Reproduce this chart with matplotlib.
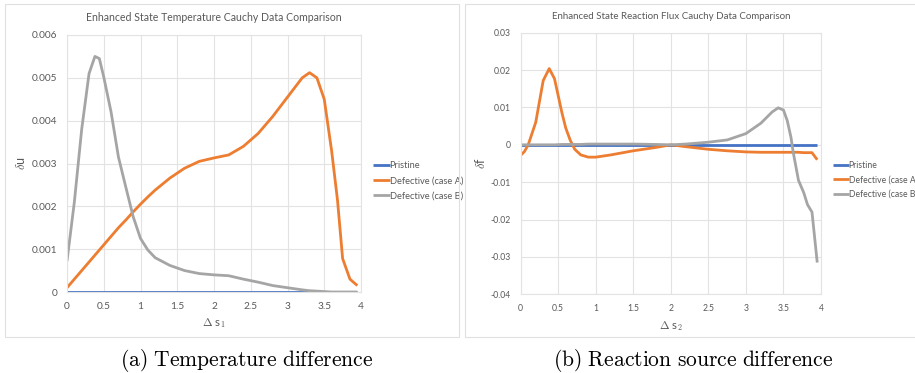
import matplotlib
matplotlib.use("Agg")
import matplotlib.pyplot as plt
from matplotlib.patches import Rectangle

# (a) temperature difference data
s1 = [0, 0.1, 0.2, 0.3, 0.38, 0.44, 0.5, 0.6, 0.7, 0.8, 0.9, 1.0, 1.1, 1.2, 1.4, 1.6,
      1.8, 2.0, 2.2, 2.4, 2.6, 2.8, 3.0, 3.2, 3.3, 3.4, 3.5, 3.6, 3.68, 3.75, 3.85, 3.95]
u_pristine = [0] * len(s1)
u_caseA = [0.0001, 0.0003, 0.0005, 0.0007, 0.00086, 0.00098, 0.0011, 0.0013, 0.0015, 0.00168,
           0.00187, 0.00205, 0.00222, 0.00238, 0.00266, 0.00289, 0.00305, 0.00313, 0.0032,
           0.0034, 0.0037, 0.0041, 0.00455, 0.005, 0.00512, 0.0050, 0.0045, 0.0033, 0.00215,
           0.00078, 0.0003, 0.00015]
u_caseB = [0.00072, 0.0021, 0.0038, 0.0051, 0.0055, 0.00545, 0.00502, 0.0042, 0.00315, 0.00245,
           0.00176, 0.00125, 0.00098, 0.0008, 0.00062, 0.0005, 0.00043, 0.0004, 0.00038, 0.0003,
           0.00023, 0.00015, 0.0001, 0.00005, 0.00003, 0.00002, 0.00001, 0.0, 0.0, 0.0, 0.0, 0.0]

# (b) reaction source difference data
s2 = [0, 0.05, 0.1, 0.2, 0.3, 0.38, 0.45, 0.55, 0.6, 0.66, 0.72, 0.8, 0.9, 1.0, 1.2, 1.5,
      1.8, 2.0, 2.2, 2.5, 2.75, 3.0, 3.2, 3.35, 3.43, 3.5, 3.55, 3.6, 3.63, 3.7, 3.77, 3.82,
      3.88, 3.95]
f_pristine = [0] * len(s2)
f_caseA = [-0.0028, -0.0018, 0.0, 0.006, 0.0172, 0.0204, 0.0177, 0.0085, 0.0045, 0.0012,
           -0.0012, -0.0027, -0.0033, -0.0033, -0.0027, -0.0016, -0.0007, 0.0, -0.0005,
           -0.0012, -0.0016, -0.0019, -0.002, -0.002, -0.002, -0.002, -0.002, -0.002, -0.002,
           -0.002, -0.0021, -0.0021, -0.0021, -0.004]
f_caseB = [0.0, 0.0, 0.0, 0.0, 0.0, 0.0, 0.0, 0.0001, 0.0001, 0.0001, 0.0001, 0.0001, 0.0002,
           0.0002, 0.0002, 0.0002, 0.0001, 0.0, 0.0002, 0.0007, 0.0013, 0.003, 0.0058, 0.0088,
           0.0099, 0.0093, 0.0065, 0.002, -0.002, -0.0095, -0.0128, -0.016, -0.018, -0.0315]

labels = ["Pristine", "Defective (case A)", "Defective (case B)"]
colors = ["#4472C4", "#ED7D31", "#A5A5A5"]
txt = "#595959"
grid = "#E3E3E3"

plt.rcParams["mathtext.fontset"] = "cm"
plt.rcParams["font.family"] = ["Lato", "DejaVu Sans"]

fig = plt.figure(figsize=(9.15, 3.73), dpi=100)

# chart frames
fig.patches.append(Rectangle((5 / 915, 1 - 337 / 373), 454 / 915, 333 / 373,
                             transform=fig.transFigure, fill=False, ec="#E0E0E0", lw=0.8))
fig.patches.append(Rectangle((465 / 915, 1 - 337 / 373), 460 / 915, 333 / 373,
                             transform=fig.transFigure, fill=False, ec="#E0E0E0", lw=0.8))


def style(ax, title, ylabel, xlabel, yticks, yfmt, fs, tfs, lfs, leg_y):
    ax.set_xlim(0, 4)
    ax.set_xticks([0, 0.5, 1, 1.5, 2, 2.5, 3, 3.5, 4])
    ax.set_xticklabels(["0", "0.5", "1", "1.5", "2", "2.5", "3", "3.5", "4"])
    ax.set_yticks(yticks)
    ax.set_yticklabels([yfmt(v) for v in yticks])
    ax.set_ylim(yticks[0], yticks[-1])
    ax.grid(True, color=grid, lw=0.8)
    ax.set_axisbelow(True)
    for sp in ax.spines.values():
        sp.set_color(grid)
        sp.set_linewidth(0.8)
    ax.tick_params(length=0, labelsize=fs, colors=txt, pad=7)
    ax.set_title(title, fontsize=tfs, color=txt, pad=10)
    ax.set_ylabel(ylabel, fontsize=9, color=txt, labelpad=3)
    ax.set_xlabel(xlabel, fontsize=8.3, color=txt, labelpad=4)
    leg = ax.legend(loc="center left", bbox_to_anchor=(1.04, leg_y), frameon=False,
                    fontsize=lfs, handlelength=1.8, handletextpad=0.0, labelspacing=0.65,
                    borderpad=0, borderaxespad=0)
    for t in leg.get_texts():
        t.set_color(txt)


ax1 = fig.add_axes([67 / 915, 1 - 292 / 373, 294 / 915, 257 / 373])
for y, lab, c in zip([u_pristine, u_caseA, u_caseB], labels, colors):
    ax1.plot(s1, y, color=c, lw=2.0, label=lab, solid_capstyle="butt")
style(ax1, "Enhanced State Temperature Cauchy Data Comparison", r"$\delta$u", r"$\Delta$ s$_1$",
      [0, 0.001, 0.002, 0.003, 0.004, 0.005, 0.006],
      lambda v: "0" if v == 0 else f"{v:.3f}", 7.3, 7.6, 6.7, 0.432)

ax2 = fig.add_axes([520.7 / 915, 1 - 294.3 / 373, 300.3 / 915, 261.6 / 373])
for y, lab, c in zip([f_pristine, f_caseA, f_caseB], labels, colors):
    ax2.plot(s2, y, color=c, lw=2.0, label=lab, solid_capstyle="butt")
style(ax2, "Enhanced State Reaction Flux Cauchy Data Comparison", r"$\delta$f", r"$\Delta$ s$_2$",
      [-0.04, -0.03, -0.02, -0.01, 0, 0.01, 0.02, 0.03],
      lambda v: "0" if v == 0 else f"{v:.2f}", 6.2, 7.0, 6.2, 0.437)

# subfigure captions
fig.text(247 / 915, 1 - 361 / 373, r"$\mathrm{(a)\ Temperature\ difference}$",
         ha="center", va="center", fontsize=15.5)
fig.text(693 / 915, 1 - 361 / 373, r"$\mathrm{(b)\ Reaction\ source\ difference}$",
         ha="center", va="center", fontsize=15.5)

fig.savefig("out.png", dpi=100)
